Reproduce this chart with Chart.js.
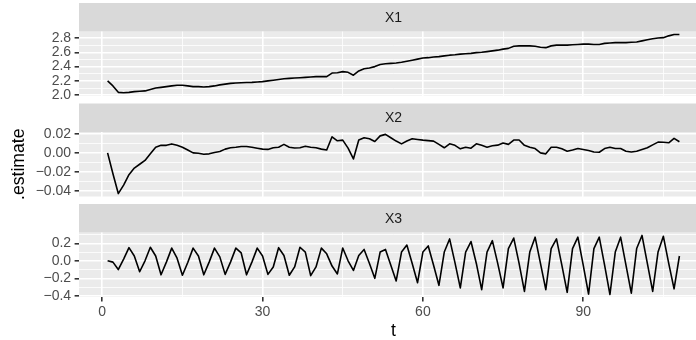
<!DOCTYPE html>
<html>
<head>
<meta charset="utf-8">
<script src="https://cdn.jsdelivr.net/npm/chart.js@4.4.1/dist/chart.umd.min.js"></script>
<style>
  html, body { margin:0; padding:0; background:#fff; width:696px; height:340px; overflow:hidden; }
  canvas { position:absolute; left:0; }
</style>
</head>
<body>
<canvas id="c1" width="708" height="100" style="top:0px"></canvas>
<canvas id="c2" width="708" height="100" style="top:100px"></canvas>
<canvas id="c3" width="708" height="140" style="top:200px"></canvas>
<script>
// ---- data ----
const t = [];
for (let i = 1; i <= 108; i++) t.push(i);

const x1 = [2.20,2.13,2.04,2.035,2.04,2.05,2.055,2.06,2.08,2.10,
  2.11,2.12,2.13,2.14,2.14,2.13,2.12,2.12,2.115,2.12,
  2.13,2.145,2.155,2.165,2.17,2.175,2.178,2.18,2.185,2.19,
  2.20,2.21,2.22,2.23,2.235,2.24,2.245,2.25,2.255,2.26,
  2.26,2.26,2.31,2.315,2.33,2.32,2.28,2.34,2.37,2.38,
  2.40,2.43,2.44,2.445,2.45,2.46,2.475,2.49,2.505,2.52,
  2.525,2.535,2.54,2.55,2.56,2.565,2.575,2.58,2.585,2.595,
  2.60,2.61,2.62,2.63,2.645,2.655,2.685,2.69,2.69,2.69,
  2.685,2.67,2.665,2.69,2.70,2.70,2.70,2.705,2.71,2.715,
  2.715,2.71,2.71,2.725,2.73,2.735,2.735,2.735,2.74,2.745,
  2.76,2.775,2.79,2.80,2.805,2.83,2.85,2.85];

const x2 = [0.000,-0.022,-0.043,-0.034,-0.023,-0.016,-0.012,-0.008,-0.001,0.006,
  0.008,0.008,0.0095,0.008,0.006,0.003,0.000,-0.0003,-0.0015,-0.001,
  0.0005,0.0015,0.004,0.0055,0.006,0.0068,0.0068,0.006,0.005,0.004,
  0.0037,0.0055,0.006,0.009,0.006,0.0052,0.0055,0.007,0.006,0.0055,
  0.004,0.003,0.017,0.0128,0.0135,0.005,-0.0064,0.0136,0.016,0.015,
  0.012,0.018,0.0196,0.016,0.0125,0.0095,0.0125,0.015,0.0142,0.0135,
  0.013,0.0125,0.009,0.0054,0.0096,0.008,0.0043,0.006,0.005,0.0096,
  0.008,0.006,0.0075,0.0082,0.0105,0.009,0.0136,0.0136,0.008,0.006,
  0.0046,0.000,-0.001,0.006,0.006,0.0043,0.0018,0.003,0.0046,0.0036,
  0.0025,0.001,0.0007,0.0046,0.006,0.0046,0.0046,0.0018,0.001,0.0018,
  0.0036,0.0054,0.0085,0.0114,0.0112,0.0107,0.0154,0.0118];

const x3 = [0.000,-0.015,-0.10,0.02,0.15,0.055,-0.125,0.0,0.155,0.055,
  -0.16,-0.015,0.145,0.03,-0.165,-0.02,0.145,0.055,-0.16,-0.015,
  0.145,0.045,-0.155,-0.015,0.145,0.09,-0.16,-0.015,0.145,0.055,
  -0.155,-0.07,0.15,0.06,-0.165,-0.07,0.155,0.10,-0.17,-0.07,
  0.145,0.08,-0.06,-0.15,0.147,0.0,-0.11,0.06,0.13,-0.03,
  -0.20,0.10,0.13,-0.05,-0.23,0.10,0.18,-0.03,-0.25,0.10,
  0.17,-0.05,-0.28,0.10,0.25,-0.02,-0.31,0.10,0.22,-0.03,
  -0.33,0.10,0.23,-0.03,-0.31,0.14,0.26,-0.03,-0.35,0.10,
  0.27,-0.03,-0.33,0.14,0.25,-0.05,-0.36,0.14,0.27,-0.05,
  -0.38,0.14,0.27,-0.05,-0.385,0.10,0.27,-0.05,-0.37,0.14,
  0.29,-0.03,-0.35,0.10,0.28,-0.03,-0.32,0.055];

const facetLabels = ['X1','X2','X3'];
const xMajor = [0,30,60,90];
const xMinor = [15,45,75,105];
const y1Major = [2.0,2.2,2.4,2.6,2.8];
const y1Minor = [2.1,2.3,2.5,2.7];
const y1Labels = ['2.0','2.2','2.4','2.6','2.8'];
const y2Major = [-0.04,-0.02,0,0.02];
const y2Minor = [-0.03,-0.01,0.01];
const y2Labels = ['\u22120.04','\u22120.02','0.00','0.02'];
const y3Major = [-0.4,-0.2,0,0.2];
const y3Minor = [-0.3,-0.1,0.1,0.3];
const y3Labels = ['\u22120.4','\u22120.2','0.0','0.2'];

// ---- styling ----
const FONT = '"Liberation Sans", Arial, Helvetica, sans-serif';
const TICK_FONT = {family: FONT, size: 14, lineHeight: 1.2};
const TITLE_FONT = {family: FONT, size: 17.6, lineHeight: 1};
const STRIP_H = 28.5;
const MAJOR_W = 1.6, MINOR_W = 0.8;

const facetPlugin = {
  id: 'facet',
  beforeDraw(chart, args, opts) {
    const {ctx, chartArea: a} = chart;
    ctx.save();
    ctx.fillStyle = '#EBEBEB';
    ctx.fillRect(a.left, a.top, a.right - a.left, a.bottom - a.top);
    ctx.fillStyle = '#D9D9D9';
    ctx.fillRect(a.left, a.top - STRIP_H, a.right - a.left, STRIP_H);
    ctx.fillStyle = '#1A1A1A';
    ctx.font = '14px ' + FONT;
    ctx.textAlign = 'center';
    ctx.textBaseline = 'middle';
    ctx.fillText(opts.label, (a.left + a.right) / 2, a.top - STRIP_H / 2 + 0.5);
    ctx.restore();
  }
};

function isIn(arr, v) { return arr.some(m => Math.abs(m - v) < 1e-9); }

function makeChart(id, vals, idx, cfg) {
  const majors = cfg.yMajor, minors = cfg.yMinor, labels = cfg.yLabels;
  const pts = t.map((v, i) => ({x: v, y: vals[i]}));
  return new Chart(document.getElementById(id), {
    type: 'line',
    data: { datasets: [{
      data: pts, borderColor: '#000', borderWidth: 1.6, pointRadius: 0,
      tension: 0, borderJoinStyle: 'round', fill: false
    }]},
    plugins: [facetPlugin],
    options: {
      responsive: false, animation: false, parsing: false,
      layout: { autoPadding: false, padding: {left: 0, right: 0, top: cfg.padTop, bottom: cfg.padBottom} },
      plugins: { legend: {display: false}, tooltip: {enabled: false}, facet: {label: facetLabels[idx]} },
      scales: {
        x: {
          type: 'linear', min: -4.35, max: 113.35,
          afterBuildTicks: s => { s.ticks = xMajor.concat(xMinor).sort((a,b)=>a-b).map(v => ({value: v})); },
          afterFit: s => { s.height = cfg.xHeight; s.paddingLeft = 0; s.paddingRight = 0; },
          border: {display: false},
          grid: {
            color: '#FFFFFF',
            lineWidth: c => isIn(xMajor, c.tick.value) ? MAJOR_W : MINOR_W,
            drawTicks: cfg.showX, tickLength: 4.4, tickWidth: MAJOR_W,
            tickColor: c => isIn(xMajor, c.tick.value) ? '#333333' : 'rgba(0,0,0,0)'
          },
          ticks: {
            display: cfg.showX, autoSkip: false, maxRotation: 0, padding: 2.5,
            color: '#4D4D4D', font: TICK_FONT,
            callback: v => isIn(xMajor, v) ? String(v) : ''
          },
          title: { display: cfg.showX, text: 't', color: '#000', font: TITLE_FONT, padding: {top: 0, bottom: 0} }
        },
        y: {
          type: 'linear', min: cfg.yMin, max: cfg.yMax,
          afterBuildTicks: s => { s.ticks = majors.concat(minors).sort((a,b)=>a-b).map(v => ({value: v})); },
          afterFit: s => { s.width = 79; s.paddingTop = 0; s.paddingBottom = 0; },
          border: {display: false},
          grid: {
            color: '#FFFFFF',
            lineWidth: c => isIn(majors, c.tick.value) ? MAJOR_W : MINOR_W,
            drawTicks: true, tickLength: 4.4, tickWidth: MAJOR_W,
            tickColor: c => isIn(majors, c.tick.value) ? '#333333' : 'rgba(0,0,0,0)'
          },
          ticks: {
            autoSkip: false, padding: 3.5, color: '#4D4D4D', font: TICK_FONT,
            callback: v => { const k = majors.findIndex(m => Math.abs(m - v) < 1e-9); return k >= 0 ? labels[k] : ''; }
          },
          title: { display: !!cfg.yTitle, text: cfg.yTitle || '', color: '#000', font: TITLE_FONT, padding: {top: 10.5, bottom: 0} }
        }
      }
    }
  });
}

makeChart('c1', x1, 0, {yMajor: y1Major, yMinor: y1Minor, yLabels: y1Labels, yMin: 1.989, yMax: 2.891,
  padTop: 31.5, padBottom: 4, xHeight: 0, showX: false});
makeChart('c2', x2, 1, {yMajor: y2Major, yMinor: y2Minor, yLabels: y2Labels, yMin: -0.0461, yMax: 0.0221,
  padTop: 32, padBottom: 3.5, xHeight: 0, showX: false, yTitle: '.estimate'});
makeChart('c3', x3, 2, {yMajor: y3Major, yMinor: y3Minor, yLabels: y3Labels, yMin: -0.4135, yMax: 0.3235,
  padTop: 32.5, padBottom: 0, xHeight: 43, showX: true});
</script>
</body>
</html>
